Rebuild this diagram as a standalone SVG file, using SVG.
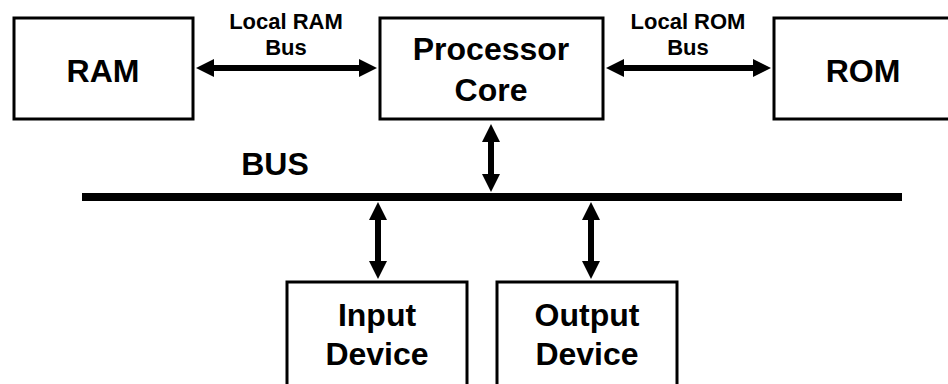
<svg xmlns="http://www.w3.org/2000/svg" width="948" height="384" viewBox="0 0 948 384">
  <style>
    .box { fill: #ffffff; stroke: #000000; stroke-width: 3; }
    .big { font-family: "Liberation Sans", Arial, sans-serif; font-weight: bold; font-size: 32px; fill: #000000; text-anchor: middle; }
    .small { font-family: "Liberation Sans", Arial, sans-serif; font-weight: bold; font-size: 22px; fill: #000000; text-anchor: middle; }
    .link { stroke: #000000; stroke-width: 6; fill: none; marker-start: url(#head); marker-end: url(#head); }
  </style>
  <defs>
    <marker id="head" markerUnits="userSpaceOnUse" markerWidth="20" markerHeight="20" refX="1" refY="9" orient="auto-start-reverse" overflow="visible">
      <path d="M0,0 L18,9 L0,18 Z" fill="#000000"/>
    </marker>
  </defs>

  <rect width="948" height="384" fill="#ffffff"/>

  <g id="ram">
    <rect class="box" x="14" y="18" width="179" height="101"/>
    <text class="big" x="103" y="82">RAM</text>
  </g>

  <g id="processor-core">
    <rect class="box" x="380" y="18" width="223" height="101"/>
    <text class="big" x="491" y="60">Processor</text>
    <text class="big" x="491" y="101">Core</text>
  </g>

  <g id="rom">
    <rect class="box" x="774" y="18" width="190" height="101"/>
    <text class="big" x="863" y="82">ROM</text>
  </g>

  <g id="bus">
    <rect x="82" y="193" width="820" height="8" fill="#000000"/>
    <text class="big" x="275" y="175">BUS</text>
  </g>

  <g id="input-device">
    <rect class="box" x="287" y="282" width="180" height="110"/>
    <text class="big" x="377" y="326">Input</text>
    <text class="big" x="377" y="365">Device</text>
  </g>

  <g id="output-device">
    <rect class="box" x="497" y="282" width="180" height="110"/>
    <text class="big" x="587" y="326">Output</text>
    <text class="big" x="587" y="365">Device</text>
  </g>

  <g id="connectors">
    <line class="link" x1="213" y1="68" x2="360" y2="68"/>
    <text class="small" x="286" y="29">Local RAM</text>
    <text class="small" x="286" y="55">Bus</text>

    <line class="link" x1="623" y1="68" x2="754" y2="68"/>
    <text class="small" x="688" y="29">Local ROM</text>
    <text class="small" x="688" y="55">Bus</text>

    <line class="link" x1="491" y1="141" x2="491" y2="175"/>
    <line class="link" x1="378" y1="219" x2="378" y2="262"/>
    <line class="link" x1="591" y1="219" x2="591" y2="262"/>
  </g>
</svg>
